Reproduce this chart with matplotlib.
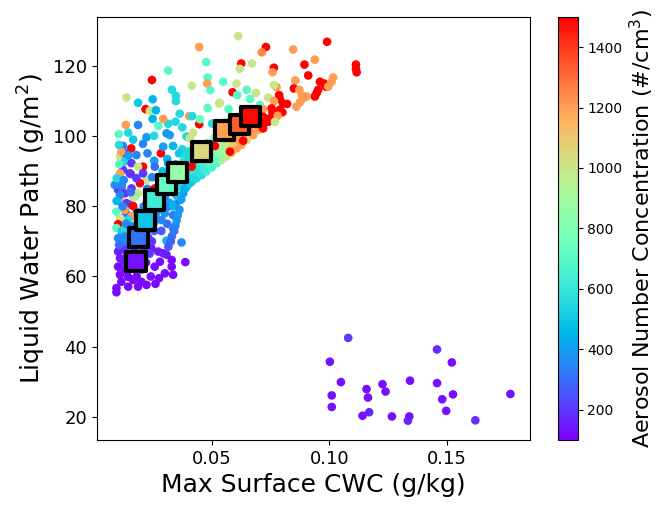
import numpy as np
import matplotlib
matplotlib.use("Agg")
import matplotlib.pyplot as plt

# points far right / low LWP
cwc_low = [0.108, 0.1002, 0.1049, 0.101, 0.101, 0.1158, 0.1164, 0.1141, 0.1169, 0.1226,
           0.1239, 0.1266, 0.1343, 0.134, 0.1334, 0.1458, 0.1521, 0.1458, 0.148, 0.1526,
           0.1497, 0.1621, 0.177]
lwp_low = [42.5, 35.7, 29.9, 26.1, 22.8, 27.9, 25.5, 20.3, 21.3, 29.3,
           27.2, 20.1, 30.3, 20.1, 18.9, 39.2, 35.5, 29.6, 25.0, 26.4,
           21.7, 19.0, 26.5]
conc_low = [220, 130, 130, 130, 130, 130, 130, 130, 170, 130,
            130, 130, 130, 130, 170, 180, 130, 130, 130, 130,
            130, 180, 130]

# upper scattered cloud
cwc_up = [0.0612, 0.0446, 0.0476, 0.0314, 0.0482, 0.0245, 0.0414, 0.048, 0.0493, 0.033,
          0.0137, 0.0248, 0.0186, 0.0347, 0.0347, 0.0218, 0.0236, 0.0262, 0.0482, 0.0363,
          0.0403, 0.0416, 0.0248, 0.0293, 0.0345, 0.0446, 0.045, 0.0134, 0.0186, 0.0501,
          0.0625, 0.0619, 0.0548, 0.0605, 0.0588, 0.0648, 0.0534, 0.0571, 0.099, 0.073,
          0.0713, 0.0846, 0.0938, 0.067, 0.0894, 0.1113, 0.1113, 0.1116, 0.0764, 0.0758,
          0.091, 0.0608, 0.0855, 0.0775, 0.0764, 0.0849, 0.096, 0.0977, 0.0985, 0.1016,
          0.1009, 0.0995, 0.0952, 0.0946, 0.0938, 0.0872, 0.0882, 0.0889, 0.0874, 0.086,
          0.0903, 0.0687, 0.074, 0.0786, 0.0789, 0.0803, 0.082, 0.0764, 0.0662, 0.0531,
          0.0704, 0.0718, 0.0754, 0.0758, 0.0764, 0.0747, 0.0789, 0.08, 0.078, 0.0718,
          0.0721, 0.074, 0.0768, 0.0697, 0.069, 0.0718, 0.0506]
lwp_up = [128.5, 125.4, 121.1, 118.7, 116.7, 116.0, 114.4, 115.0, 113.1, 113.2,
          111.0, 110.5, 109.5, 110.0, 111.5, 107.7, 107.2, 107.4, 108.0, 106.4,
          105.7, 105.7, 104.9, 104.9, 104.1, 103.4, 104.8, 103.2, 103.2, 103.6,
          120.7, 119.2, 115.5, 115.0, 112.5, 113.2, 109.5, 107.7, 126.9, 125.4,
          123.9, 124.7, 121.8, 120.7, 120.4, 120.4, 119.2, 118.2, 119.5, 118.2,
          117.3, 111.7, 115.9, 114.0, 114.6, 113.6, 115.5, 115.0, 114.1, 116.7,
          115.5, 114.1, 113.2, 112.3, 111.3, 113.2, 111.7, 110.8, 109.6, 108.4,
          111.3, 112.3, 111.0, 111.7, 110.6, 109.3, 109.2, 110.0, 110.6, 109.3,
          108.9, 107.7, 107.9, 106.8, 105.5, 105.1, 107.5, 106.8, 105.8, 105.5,
          103.6, 104.1, 104.1, 105.5, 103.6, 102.2, 103.6]
conc_up = [1000, 1200, 700, 700, 700, 1500, 1000, 1200, 700, 550,
           1000, 450, 500, 550, 550, 1500, 1000, 450, 700, 550,
           1200, 550, 450, 1200, 550, 1500, 750, 1200, 350, 550,
           1500, 1000, 700, 1000, 1500, 700, 1000, 700, 1500, 1500,
           1250, 1200, 1200, 1000, 1500, 1500, 1500, 1500, 1500, 1200,
           1500, 700, 1200, 1200, 1000, 1500, 1500, 1500, 1500, 1200,
           1200, 1200, 1500, 1500, 1500, 1200, 1200, 1200, 1200, 1200,
           1200, 1000, 1000, 1500, 1500, 1500, 1500, 1200, 700, 1000,
           700, 1200, 1500, 1500, 1500, 1500, 1500, 1500, 1200, 1500,
           1500, 1500, 1000, 1200, 1200, 1500, 550]

# left column / middle region
cwc_mid = [0.0272, 0.0314, 0.0374, 0.0104, 0.0144, 0.0222, 0.0254, 0.0307, 0.0321, 0.0392,
           0.042, 0.0406, 0.0207, 0.0157, 0.0122, 0.0109, 0.013, 0.0179, 0.0226, 0.0283,
           0.0293, 0.0335, 0.0374, 0.036, 0.0399, 0.0385, 0.042, 0.013, 0.0158, 0.0207,
           0.0186, 0.0257, 0.0314, 0.0122, 0.0109, 0.0155, 0.0222, 0.0194, 0.0179, 0.0246,
           0.0257, 0.0101, 0.0116, 0.0158, 0.0186, 0.0172, 0.0087, 0.013, 0.0109, 0.0137,
           0.0165, 0.0094, 0.013, 0.0158, 0.0109, 0.0101, 0.0094, 0.0116, 0.0101, 0.0122,
           0.0286, 0.0335, 0.0307, 0.0371, 0.0116, 0.0109, 0.0165, 0.0151, 0.0207, 0.0144,
           0.013, 0.013, 0.0165, 0.0272, 0.03, 0.0314,
           0.0105, 0.0115, 0.0095, 0.0125, 0.0145, 0.0105, 0.0165, 0.012, 0.0095, 0.0135,
           0.0105, 0.0155]
lwp_mid = [102.9, 103.5, 102.5, 100.6, 101.0, 99.7, 100.1, 100.8, 100.3, 99.9,
           101.0, 99.4, 97.8, 96.5, 97.2, 94.2, 95.1, 94.6, 95.1, 95.1,
           97.0, 97.2, 96.3, 95.1, 95.6, 94.2, 92.3, 92.8, 92.3, 91.3,
           91.3, 91.3, 92.3, 90.4, 89.4, 89.2, 87.5, 86.6, 88.0, 88.3,
           85.1, 84.7, 85.6, 85.1, 83.7, 82.8, 86.1, 83.7, 81.4, 80.9,
           80.1, 78.5, 79.0, 77.1, 76.6, 74.9, 73.8, 72.8, 70.9, 69.9,
           76.1, 73.7, 70.2, 69.7, 86.1, 83.2, 82.8, 89.4, 89.4, 76.1,
           73.3, 71.4, 74.3, 79.0, 82.8, 79.9,
           92.0, 95.5, 88.0, 87.5, 94.5, 97.5, 99.0, 80.0, 81.5, 75.0,
           69.0, 84.0]
conc_mid = [700, 550, 550, 700, 550, 400, 550, 400, 400, 550,
            1000, 1000, 350, 1500, 350, 1000, 200, 350, 350, 1500,
            400, 450, 550, 500, 550, 550, 1500, 550, 200, 1500,
            1000, 300, 400, 200, 1200, 200, 1000, 1500, 200, 350,
            1500, 200, 300, 200, 1000, 750, 350, 200, 1200, 200,
            1500, 700, 1200, 1200, 1000, 1500, 700, 500, 350, 350,
            350, 350, 450, 350, 350, 350, 1000, 200, 200, 550,
            550, 350, 350, 350, 350, 350,
            700, 1200, 550, 350, 400, 550, 500, 350, 450, 350,
            300, 300]

# dense purple/blue bottom-left
cwc_dense = [0.0243, 0.0272, 0.0293, 0.0307, 0.0101, 0.0109, 0.0257, 0.0279, 0.0329, 0.0329,
             0.0387, 0.03, 0.0335, 0.0101, 0.0109, 0.0222, 0.026, 0.0186, 0.0144, 0.0094,
             0.0094, 0.013, 0.0144, 0.0115, 0.0125, 0.014, 0.016, 0.018, 0.02, 0.022,
             0.0235, 0.021, 0.017, 0.0145, 0.0155, 0.019, 0.023, 0.0255, 0.0245, 0.013,
             0.0165, 0.02, 0.024, 0.0275, 0.0135, 0.015, 0.018, 0.021, 0.0235, 0.0265,
             0.0285, 0.0225, 0.019, 0.0235, 0.026, 0.0175, 0.02, 0.0225, 0.0255, 0.0285,
             0.031, 0.0335, 0.0345,
             0.028, 0.030, 0.032, 0.027, 0.029, 0.0255, 0.0335, 0.0345, 0.031, 0.0345,
             0.0365]
lwp_dense = [68.0, 67.1, 66.6, 66.2, 67.1, 65.2, 62.8, 64.2, 64.7, 62.8,
             64.1, 60.9, 60.5, 62.8, 60.5, 57.6, 57.9, 57.1, 57.1, 56.7,
             55.5, 61.8, 59.9, 58.5, 64.0, 66.0, 63.0, 60.0, 62.0, 64.0,
             66.5, 68.0, 67.5, 69.0, 72.0, 74.0, 71.0, 73.0, 70.0, 67.5,
             59.0, 58.5, 60.0, 59.5, 78.0, 80.5, 78.5, 80.0, 82.0, 84.0,
             86.5, 85.0, 77.0, 78.0, 77.5, 70.0, 71.0, 73.5, 75.5, 73.0,
             75.0, 77.5, 80.5,
             80.0, 78.0, 81.0, 88.0, 90.0, 93.0, 86.0, 88.5, 93.5, 92.0,
             89.5]
conc_dense = [150, 150, 150, 150, 150, 150, 120, 120, 120, 120,
              120, 120, 120, 120, 120, 120, 120, 120, 120, 120,
              120, 120, 120, 120, 150, 180, 130, 120, 140, 160,
              200, 180, 160, 220, 250, 280, 230, 260, 210, 170,
              120, 120, 130, 120, 300, 320, 330, 350, 380, 360,
              400, 340, 300, 320, 340, 240, 250, 280, 300, 260,
              300, 320, 380,
              400, 380, 420, 450, 480, 400, 480, 520, 450, 500,
              550]

# lower-right edge band
cwc_band = [0.0315, 0.033, 0.0345, 0.0355, 0.0364, 0.0378, 0.0392, 0.0414, 0.0435, 0.0456,
            0.0477, 0.0499, 0.052, 0.0541, 0.0563, 0.0584, 0.0605, 0.0626, 0.0648, 0.0676,
            0.0697, 0.0335, 0.035, 0.0365, 0.038, 0.040, 0.042, 0.044, 0.046, 0.048,
            0.050, 0.052, 0.054, 0.056, 0.058, 0.060, 0.062, 0.064, 0.030, 0.0315,
            0.033, 0.036, 0.038, 0.040, 0.043, 0.0455, 0.048, 0.051, 0.053, 0.0555,
            0.0325, 0.034, 0.035, 0.0362, 0.037, 0.0385, 0.0405, 0.0425, 0.0445, 0.0465,
            0.0487, 0.051, 0.053, 0.055, 0.057, 0.059, 0.061, 0.063, 0.066,
            0.0414, 0.0513, 0.0577, 0.0633]
lwp_band = [68.5, 71.5, 74.5, 77.5, 81.8, 83.7, 85.6, 87.0, 88.0, 88.9,
            89.9, 91.1, 92.3, 93.2, 94.2, 95.3, 96.5, 97.5, 98.9, 100.3,
            101.8, 80.0, 83.0, 85.5, 87.5, 89.0, 90.0, 91.0, 92.3, 93.5,
            94.5, 95.8, 97.0, 98.0, 99.3, 100.5, 101.5, 102.5, 84.0, 88.0,
            90.0, 91.5, 93.0, 93.5, 94.5, 96.5, 98.0, 99.5, 101.0, 104.0,
            70.0, 73.0, 76.0, 79.0, 82.0, 85.0, 86.5, 88.0, 89.5, 90.5,
            92.0, 93.2, 94.5, 95.5, 96.7, 98.0, 99.0, 100.0, 101.5,
            91.3, 97.2, 95.6, 98.7]
conc_band = [250, 300, 350, 400, 300, 400, 450, 500, 550, 550,
             650, 650, 700, 900, 1000, 1150, 1200, 1200, 1050, 1200,
             1200, 450, 500, 550, 500, 550, 600, 600, 650, 700,
             750, 850, 900, 1000, 1100, 1200, 1200, 1300, 450, 550,
             500, 550, 600, 550, 600, 700, 750, 800, 1000, 1000,
             280, 320, 380, 380, 420, 450, 500, 550, 580, 620,
             680, 720, 800, 900, 1000, 1100, 1200, 1200, 1250,
             1500, 1500, 1500, 1500]

# binned means (squares)
sq_cwc = [0.0177, 0.0186, 0.0218, 0.0257, 0.0307, 0.0354, 0.0456, 0.0555, 0.0616, 0.0665]
sq_lwp = [64.2, 71.2, 75.9, 81.8, 86.1, 89.7, 95.6, 101.5, 103.2, 105.5]
sq_conc = [130, 310, 490, 630, 730, 870, 1050, 1190, 1330, 1480]

cwc = cwc_dense + cwc_mid + cwc_band + cwc_up + cwc_low
lwp = lwp_dense + lwp_mid + lwp_band + lwp_up + lwp_low
conc = conc_dense + conc_mid + conc_band + conc_up + conc_low

fig = plt.figure(figsize=(6.64, 5.11), dpi=100)
ax = fig.add_axes([0.146, 0.139, 0.652, 0.828])
cax = fig.add_axes([0.840, 0.139, 0.030, 0.828])

sc = ax.scatter(cwc, lwp, c=conc, cmap="rainbow", vmin=100, vmax=1500, s=27)
ax.scatter(sq_cwc, sq_lwp, c=sq_conc, cmap="rainbow", vmin=100, vmax=1500,
           marker="s", s=190, edgecolors="black", linewidths=3, zorder=3)

ax.set_xlim(0.0011, 0.1853)
ax.set_ylim(13.4, 134)
ax.set_xticks([0.05, 0.10, 0.15])
ax.set_yticks([20, 40, 60, 80, 100, 120])
ax.tick_params(labelsize=13)
ax.set_xlabel("Max Surface CWC (g/kg)", fontsize=18)
ax.set_ylabel("Liquid Water Path (g/m$^2$)", fontsize=18)

cb = fig.colorbar(sc, cax=cax)
cb.set_ticks([200, 400, 600, 800, 1000, 1200, 1400])
cb.ax.tick_params(labelsize=10)
cb.set_label("Aerosol Number Concentration (#/cm$^3$)", fontsize=16)

fig.savefig("out.png", dpi=100)
